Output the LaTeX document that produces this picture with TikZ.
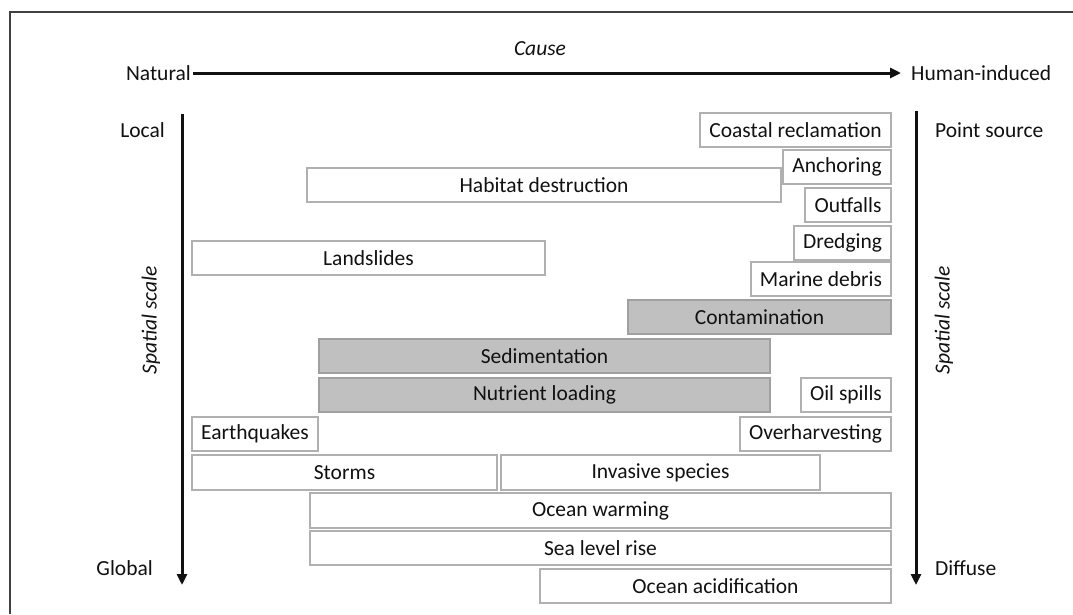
\documentclass[tikz,border=0pt]{standalone}
\usepackage{fontspec}
\setmainfont{Carlito}
\usetikzlibrary{arrows.meta}
\definecolor{wborder}{HTML}{B0B0B0}
\definecolor{gfill}{HTML}{C0C0C0}
\definecolor{gborder}{HTML}{A0A0A0}
\definecolor{ink}{HTML}{111111}
\tikzset{
  base/.style={rectangle, inner sep=0pt, outer sep=0pt, minimum height=34pt, text=ink, font=\fontsize{21.5}{24}\selectfont, line width=1.2pt},
  wbox/.style={base, draw=wborder, fill=white},
  gbox/.style={base, draw=gborder, fill=gfill},
  lab/.style={inner sep=0pt, text=ink, font=\fontsize{21.5}{24}\selectfont},
  ilab/.style={lab, font=\fontsize{21.5}{24}\selectfont\itshape},
  axis/.style={line width=3pt, ink, -{Triangle[length=11pt,width=10pt]}},
}
\begin{document}
\begin{tikzpicture}[x=1pt,y=-1pt]
\useasboundingbox (0,0) rectangle (1073,614);
% frame
\draw[line width=2pt, ink!80] (10,614) -- (10,12) -- (1073,12);
% cause axis
\node[ilab, anchor=base] (cause) at (540,55) {Cause};
\node[lab, anchor=base east] (natural) at (191,80) {Natural};
\node[lab, anchor=base west] (human) at (911,80) {Human-induced};
\coordinate (hs) at (193,73);
\coordinate (he) at (901,73);
\draw[axis] (hs) -- (he);
% left scale axis
\node[lab, anchor=base east] (local) at (165,137) {Local};
\node[lab, anchor=base east] (global) at (153,575) {Global};
\coordinate (ls) at (182,114);
\coordinate (le) at (182,585);
\draw[axis] (ls) -- (le);
\node[ilab, rotate=90] (sl) at (151,320) {Spatial scale};
% right scale axis
\node[lab, anchor=base west] (point) at (935,137) {Point source};
\node[lab, anchor=base west] (diffuse) at (935,575) {Diffuse};
\coordinate (rs) at (916,111);
\coordinate (re) at (916,585);
\draw[axis] (rs) -- (re);
\node[ilab, rotate=90] (sr) at (944,320) {Spatial scale};
% boxes
\node[wbox, minimum width=191pt] (coastal) at (795.5,130) {Coastal reclamation};
\node[wbox, minimum width=108pt] (anchor) at (837,167) {Anchoring};
\node[wbox, minimum width=474pt] (habitat) at (544,185) {Habitat destruction};
\node[wbox, minimum width=86pt] (outfalls) at (848,205) {Outfalls};
\node[wbox, minimum width=97pt] (dredging) at (842.5,243) {Dredging};
\node[wbox, minimum width=353pt] (landslides) at (368.5,258) {Landslides};
\node[wbox, minimum width=140pt] (marine) at (821,279) {Marine debris};
\node[gbox, minimum width=263pt] (contam) at (759.5,317) {Contamination};
\node[gbox, minimum width=451pt] (sediment) at (544.5,356) {Sedimentation};
\node[gbox, minimum width=451pt] (nutrient) at (544.5,395) {Nutrient loading};
\node[wbox, minimum width=90pt] (oil) at (846,395) {Oil spills};
\node[wbox, minimum width=126pt] (earthq) at (255,434) {Earthquakes};
\node[wbox, minimum width=151pt] (overh) at (815.5,434) {Overharvesting};
\node[wbox, minimum width=305pt, minimum height=35pt] (storms) at (344.5,472.5) {Storms};
\node[wbox, minimum width=319pt, minimum height=35pt] (invasive) at (660.5,472.5) {Invasive species};
\node[wbox, minimum width=581pt, minimum height=35pt] (warming) at (600.5,510.5) {Ocean warming};
\node[wbox, minimum width=581pt] (sealevel) at (600.5,548) {Sea level rise};
\node[wbox, minimum width=351pt] (acid) at (715.5,586) {Ocean acidification};
\end{tikzpicture}
\end{document}
